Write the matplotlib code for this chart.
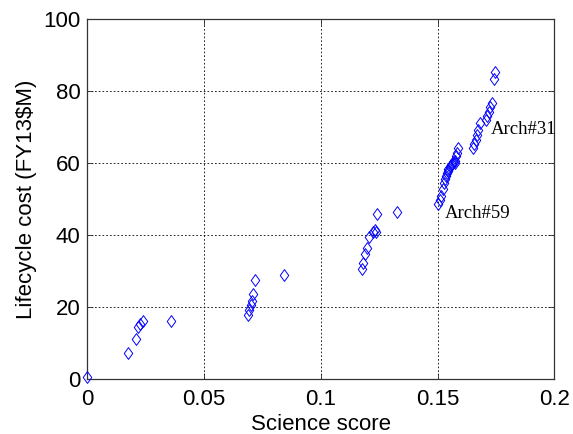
import matplotlib
matplotlib.use("Agg")
import matplotlib.pyplot as plt
from matplotlib.path import Path

# Science score (x) and lifecycle cost (y) for each architecture
science = [
    0.0000, 0.0174, 0.0207, 0.0217, 0.0226, 0.0236, 0.0356,
    0.0688, 0.0693, 0.0699, 0.0703, 0.0707, 0.0717, 0.0843,
    0.1174, 0.1179, 0.1189, 0.1195, 0.1205, 0.1224, 0.1231, 0.1236, 0.1239, 0.1324,
    0.1503, 0.1511, 0.1516, 0.1524, 0.1528, 0.1532, 0.1535, 0.1538, 0.1542, 0.1546,
    0.1552, 0.1557, 0.1562, 0.1566, 0.1572, 0.1576, 0.1580, 0.1584, 0.1588,
    0.1653, 0.1656, 0.1662, 0.1667, 0.1673, 0.1681, 0.1707, 0.1713, 0.1720,
    0.1725, 0.1731, 0.1742, 0.1746,
]
cost = [
    0.8, 7.4, 11.3, 14.5, 15.4, 16.2, 16.2,
    18.0, 19.4, 20.6, 21.9, 23.6, 27.6, 28.9,
    30.8, 32.4, 34.8, 36.4, 39.5, 40.9, 41.6, 41.0, 45.9, 46.5,
    48.6, 49.8, 51.0, 52.8, 54.6, 55.8, 56.6, 57.3, 57.8, 58.4,
    59.0, 59.6, 59.8, 60.4, 60.2, 60.8, 62.0, 63.0, 64.2,
    64.2, 65.4, 66.5, 67.9, 69.3, 71.2, 72.0, 73.2, 74.3,
    75.6, 76.9, 83.3, 85.4,
]

annot_labels = ["Arch#31", "Arch#59"]

x_ticks = [0, 0.05, 0.1, 0.15, 0.2]
x_tick_labels = ["0", "0.05", "0.1", "0.15", "0.2"]
y_ticks = [0, 20, 40, 60, 80, 100]

fig = plt.figure(figsize=(5.73, 4.34), dpi=100)
ax = fig.add_axes([0.1527, 0.1256, 0.9677 - 0.1527, 0.9555 - 0.1256])

diamond = Path([(0, 1), (0.72, 0), (0, -1), (-0.72, 0), (0, 1)],
               [Path.MOVETO, Path.LINETO, Path.LINETO, Path.LINETO, Path.CLOSEPOLY])
ax.plot(science, cost, linestyle="none", marker=diamond, markersize=8.5,
        markerfacecolor="none", markeredgecolor=(0, 0, 1), markeredgewidth=0.7,
        clip_on=False, zorder=3)

ax.set_xlim(0, 0.2)
ax.set_ylim(0, 100)
ax.set_xticks(x_ticks)
ax.set_xticklabels(x_tick_labels)
ax.set_yticks(y_ticks)

tick_font = "Liberation Sans"
for lab in ax.get_xticklabels() + ax.get_yticklabels():
    lab.set_fontfamily(tick_font)
    lab.set_fontsize(16)

ax.tick_params(direction="in", length=4, width=0.6, top=True, right=True,
               colors=(0.15, 0.15, 0.15), labelcolor="black")
ax.tick_params(axis="x", pad=7)
ax.tick_params(axis="y", pad=5)

ax.grid(True, color="black", linestyle=(0, (2, 2.5)), linewidth=0.6)
ax.set_axisbelow(True)
for s in ax.spines.values():
    s.set_color((0.2, 0.2, 0.2))
    s.set_linewidth(0.9)

ax.set_xlabel("Science score", fontfamily=tick_font, fontsize=16)
ax.set_ylabel("Lifecycle cost (FY13$M)", fontfamily=tick_font, fontsize=16)
ax.xaxis.set_label_coords(0.5, -0.095)
ax.yaxis.set_label_coords(-0.109, 0.5)

ax.text(0.17275, 68.2, annot_labels[0], fontfamily="Liberation Serif", fontsize=13.5,
        ha="left", va="baseline", zorder=4)
ax.text(0.1532, 44.8, annot_labels[1], fontfamily="Liberation Serif", fontsize=13.5,
        ha="left", va="baseline", zorder=4)

fig.savefig("out.png", dpi=100)
